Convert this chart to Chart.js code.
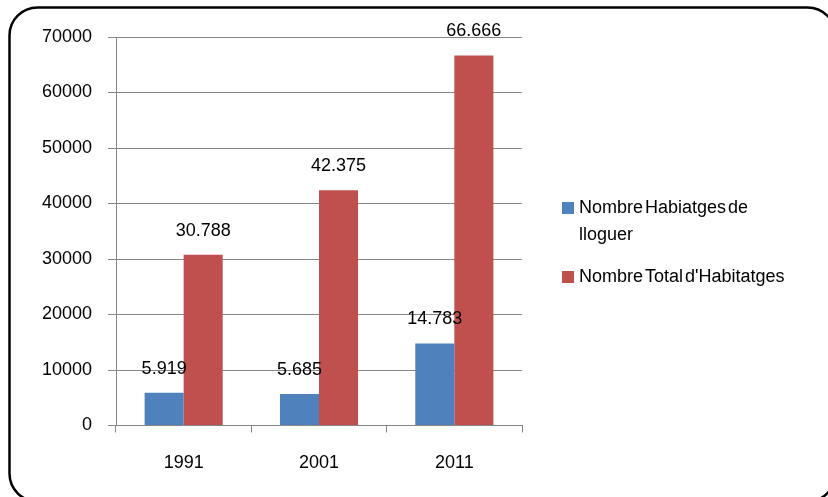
<!DOCTYPE html>
<html>
<head>
<meta charset="utf-8">
<script src="https://cdn.jsdelivr.net/npm/chart.js@4.4.0/dist/chart.umd.min.js"></script>
<style>
  html, body { margin: 0; padding: 0; background: #fff; }
  #wrap { width: 828px; height: 497px; }
</style>
</head>
<body>
<div id="wrap"><canvas id="mainChart" width="828" height="497"></canvas></div>
<script>
const years = ["1991", "2001", "2011"];
const rentalHomes = [5919, 5685, 14783];
const totalHomes = [30788, 42375, 66666];
const seriesNames = [["Nombre Habiatges de", "lloguer"], ["Nombre Total d'Habitatges"]];
const seriesColors = ["#4F81BD", "#C0504D"];

const fontFamily = "'Liberation Sans', Arial, sans-serif";
Chart.defaults.font.family = fontFamily;
Chart.defaults.font.size = 18;
Chart.defaults.color = "#000";

// thousands with a dot, like the original labels
function formatNum(v) {
  return String(v).replace(/\B(?=(\d{3})+(?!\d))/g, ".");
}

// rounded frame around the whole chart (runs off the right and bottom edge)
const framePlugin = {
  id: "frame",
  afterDraw(chart) {
    const ctx = chart.ctx;
    ctx.save();
    ctx.strokeStyle = "#000";
    ctx.lineWidth = 2.5;
    ctx.beginPath();
    ctx.roundRect(9.5, 7.5, 826, 494, 28);
    ctx.stroke();
    ctx.restore();
  },
};

// value labels above each bar
const valueLabels = {
  id: "valueLabels",
  afterDatasetsDraw(chart) {
    const ctx = chart.ctx;
    ctx.save();
    ctx.font = "18px " + fontFamily;
    ctx.fillStyle = "#000";
    ctx.textAlign = "center";
    ctx.textBaseline = "middle";
    chart.data.datasets.forEach((ds, i) => {
      chart.getDatasetMeta(i).data.forEach((bar, j) => {
        ctx.fillText(formatNum(ds.data[j]), bar.x, bar.y - 24);
      });
    });
    ctx.restore();
  },
};

// legend on the right, with wrapped text
const sideLegend = {
  id: "sideLegend",
  afterDraw(chart) {
    const ctx = chart.ctx;
    const x = chart.chartArea.right + 40;
    const rows = [208, 277];
    ctx.save();
    ctx.font = "18px " + fontFamily;
    ctx.textBaseline = "middle";
    ctx.textAlign = "left";
    if ("wordSpacing" in ctx) ctx.wordSpacing = "-3px";
    chart.data.datasets.forEach((ds, i) => {
      const y = rows[i];
      ctx.fillStyle = ds.backgroundColor;
      ctx.fillRect(x, y - 6, 12, 12);
      ctx.fillStyle = "#000";
      seriesNames[i].forEach((line, k) => {
        ctx.fillText(line, x + 17, y + k * 27);
      });
    });
    ctx.restore();
  },
};

const ctx = document.getElementById("mainChart").getContext("2d");
new Chart(ctx, {
  type: "bar",
  data: {
    labels: years,
    datasets: [
      { label: seriesNames[0].join(" "), data: rentalHomes, backgroundColor: seriesColors[0] },
      { label: seriesNames[1].join(" "), data: totalHomes, backgroundColor: seriesColors[1] },
    ],
  },
  options: {
    responsive: false,
    animation: false,
    layout: { padding: { top: 37, right: 306, bottom: 0, left: 0 } },
    plugins: {
      legend: { display: false },
      tooltip: { enabled: false },
    },
    datasets: {
      bar: { categoryPercentage: 0.577, barPercentage: 1.0 },
    },
    scales: {
      x: {
        afterFit(scale) { scale.height = 71.5; },
        grid: {
          drawOnChartArea: false,
          offset: true,
          tickLength: 7,
          color: "#868686",
        },
        border: { color: "#868686" },
        ticks: { padding: 20 },
      },
      y: {
        min: 0,
        max: 70000,
        afterFit(scale) { scale.width = 116; },
        grid: { color: "#868686", tickLength: 8 },
        border: { color: "#868686" },
        ticks: {
          stepSize: 10000,
          padding: 16,
          callback: (v) => String(v),
        },
      },
    },
  },
  plugins: [valueLabels, sideLegend, framePlugin],
});
</script>
</body>
</html>
